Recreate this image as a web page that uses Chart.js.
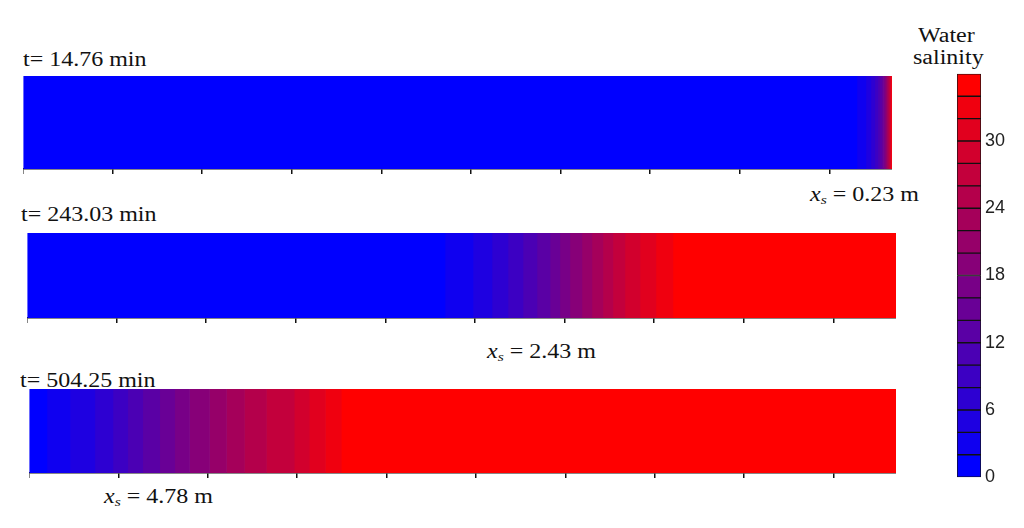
<!DOCTYPE html>
<html>
<head>
<meta charset="utf-8">
<script src="https://cdn.jsdelivr.net/npm/chart.js@4/dist/chart.umd.min.js"></script>
<style>
  body { margin: 0; background: #fff; width: 1024px; height: 528px; position: relative; overflow: hidden; }
  .box { position: absolute; }
  .lbl { position: absolute; font-family: "Liberation Serif", "Times New Roman", serif; font-size: 20px; line-height: 20px;
         color: #111; white-space: nowrap; transform: scaleX(1.2); transform-origin: left top; }
  .lbl sub { font-size: 0.65em; line-height: 0; vertical-align: -0.25em; }
</style>
</head>
<body>
<div class="lbl" style="left:23px;top:49px">t= 14.76 min</div>
<div class="lbl" style="left:21px;top:204px">t= 243.03 min</div>
<div class="lbl" style="left:20px;top:370px">t= 504.25 min</div>
<div class="lbl" style="left:810px;top:184px"><i>x</i><sub><i>s</i></sub> = 0.23 m</div>
<div class="lbl" style="left:487px;top:341px"><i>x</i><sub><i>s</i></sub> = 2.43 m</div>
<div class="lbl" style="left:104px;top:486px"><i>x</i><sub><i>s</i></sub> = 4.78 m</div>
<div class="lbl" style="left:918px;top:25px">Water</div>
<div class="lbl" style="left:913px;top:47px">salinity</div>

<div class="box" style="left:23px;top:76px;width:869px;height:99px"><canvas id="p1"></canvas></div>
<div class="box" style="left:27px;top:233px;width:869px;height:91px"><canvas id="p2"></canvas></div>
<div class="box" style="left:29px;top:389px;width:867px;height:90px"><canvas id="p3"></canvas></div>
<div class="box" style="left:957px;top:59px;width:60px;height:433px"><canvas id="bar"></canvas></div>

<script>
// tank length (m) and isohaline positions (m from left end) for levels 2,4,...,34
var tankLength = 4.85;
var contourLevels = [2, 4, 6, 8, 10, 12, 14, 16, 18, 20, 22, 24, 26, 28, 30, 32, 34];
var iso_t1 = [4.654, 4.704, 4.732, 4.754, 4.771, 4.782, 4.794, 4.802, 4.810, 4.816, 4.821, 4.827, 4.833, 4.837, 4.840, 4.844, 4.847];
var iso_t2 = [2.333, 2.489, 2.595, 2.684, 2.768, 2.846, 2.919, 2.974, 3.030, 3.097, 3.153, 3.214, 3.270, 3.337, 3.421, 3.510, 3.605];
var iso_t3 = [0.100, 0.229, 0.368, 0.469, 0.552, 0.636, 0.731, 0.815, 0.898, 1.010, 1.105, 1.205, 1.328, 1.484, 1.568, 1.658, 1.747];
var salinityMax = 36;
var barTicks = [0, 6, 12, 18, 24, 30];

var nLevels = contourLevels.length + 1;
function levelColor(k) {
  var f = k / (nLevels - 1);
  return 'rgb(' + Math.round(255 * f) + ',0,' + Math.round(255 * (1 - f)) + ')';
}

function makePanel(id, iso) {
  var edges = [0].concat(iso, [tankLength]);
  var datasets = [];
  for (var k = 0; k < nLevels; k++) {
    datasets.push({
      data: [[edges[k], edges[k + 1]]],
      backgroundColor: levelColor(k),
      grouped: false,
      barPercentage: 1,
      categoryPercentage: 1
    });
  }
  new Chart(document.getElementById(id), {
    type: 'bar',
    data: { labels: ['tank'], datasets: datasets },
    options: {
      indexAxis: 'y',
      animation: false,
      responsive: true,
      maintainAspectRatio: false,
      layout: { padding: 0 },
      plugins: { legend: { display: false }, tooltip: { enabled: false } },
      scales: {
        x: {
          type: 'linear', min: 0, max: tankLength,
          ticks: { stepSize: 0.5, display: false, includeBounds: false },
          grid: { drawOnChartArea: false, tickLength: 5, color: '#111', lineWidth: 1.5 },
          border: { color: '#111', width: 1.5 },
          afterFit: function (s) { s.height = 6; }
        },
        y: { display: false }
      }
    }
  });
}

makePanel('p1', iso_t1);
makePanel('p2', iso_t2);
makePanel('p3', iso_t3);

// colour bar
var barSets = [];
for (var k = 0; k < nLevels; k++) {
  barSets.push({
    data: [[k * salinityMax / nLevels, (k + 1) * salinityMax / nLevels]],
    backgroundColor: levelColor(k),
    borderColor: '#111',
    borderWidth: 1,
    borderSkipped: false,
    grouped: false,
    barPercentage: 1,
    categoryPercentage: 1
  });
}
new Chart(document.getElementById('bar'), {
  type: 'bar',
  data: { labels: ['salinity'], datasets: barSets },
  options: {
    animation: false,
    responsive: true,
    maintainAspectRatio: false,
    layout: { padding: 0 },
    plugins: { legend: { display: false }, tooltip: { enabled: false } },
    scales: {
      x: { display: false },
      y: {
        position: 'right', min: 0, max: salinityMax,
        afterBuildTicks: function (s) { s.ticks = barTicks.map(function (v) { return { value: v }; }); },
        ticks: { color: '#222', padding: 4, font: { family: '"Liberation Sans", Arial, sans-serif', size: 18 } },
        grid: { display: false, drawTicks: false },
        border: { display: false },
        afterFit: function (s) { s.width = 36; }
      }
    }
  }
});
</script>
</body>
</html>
